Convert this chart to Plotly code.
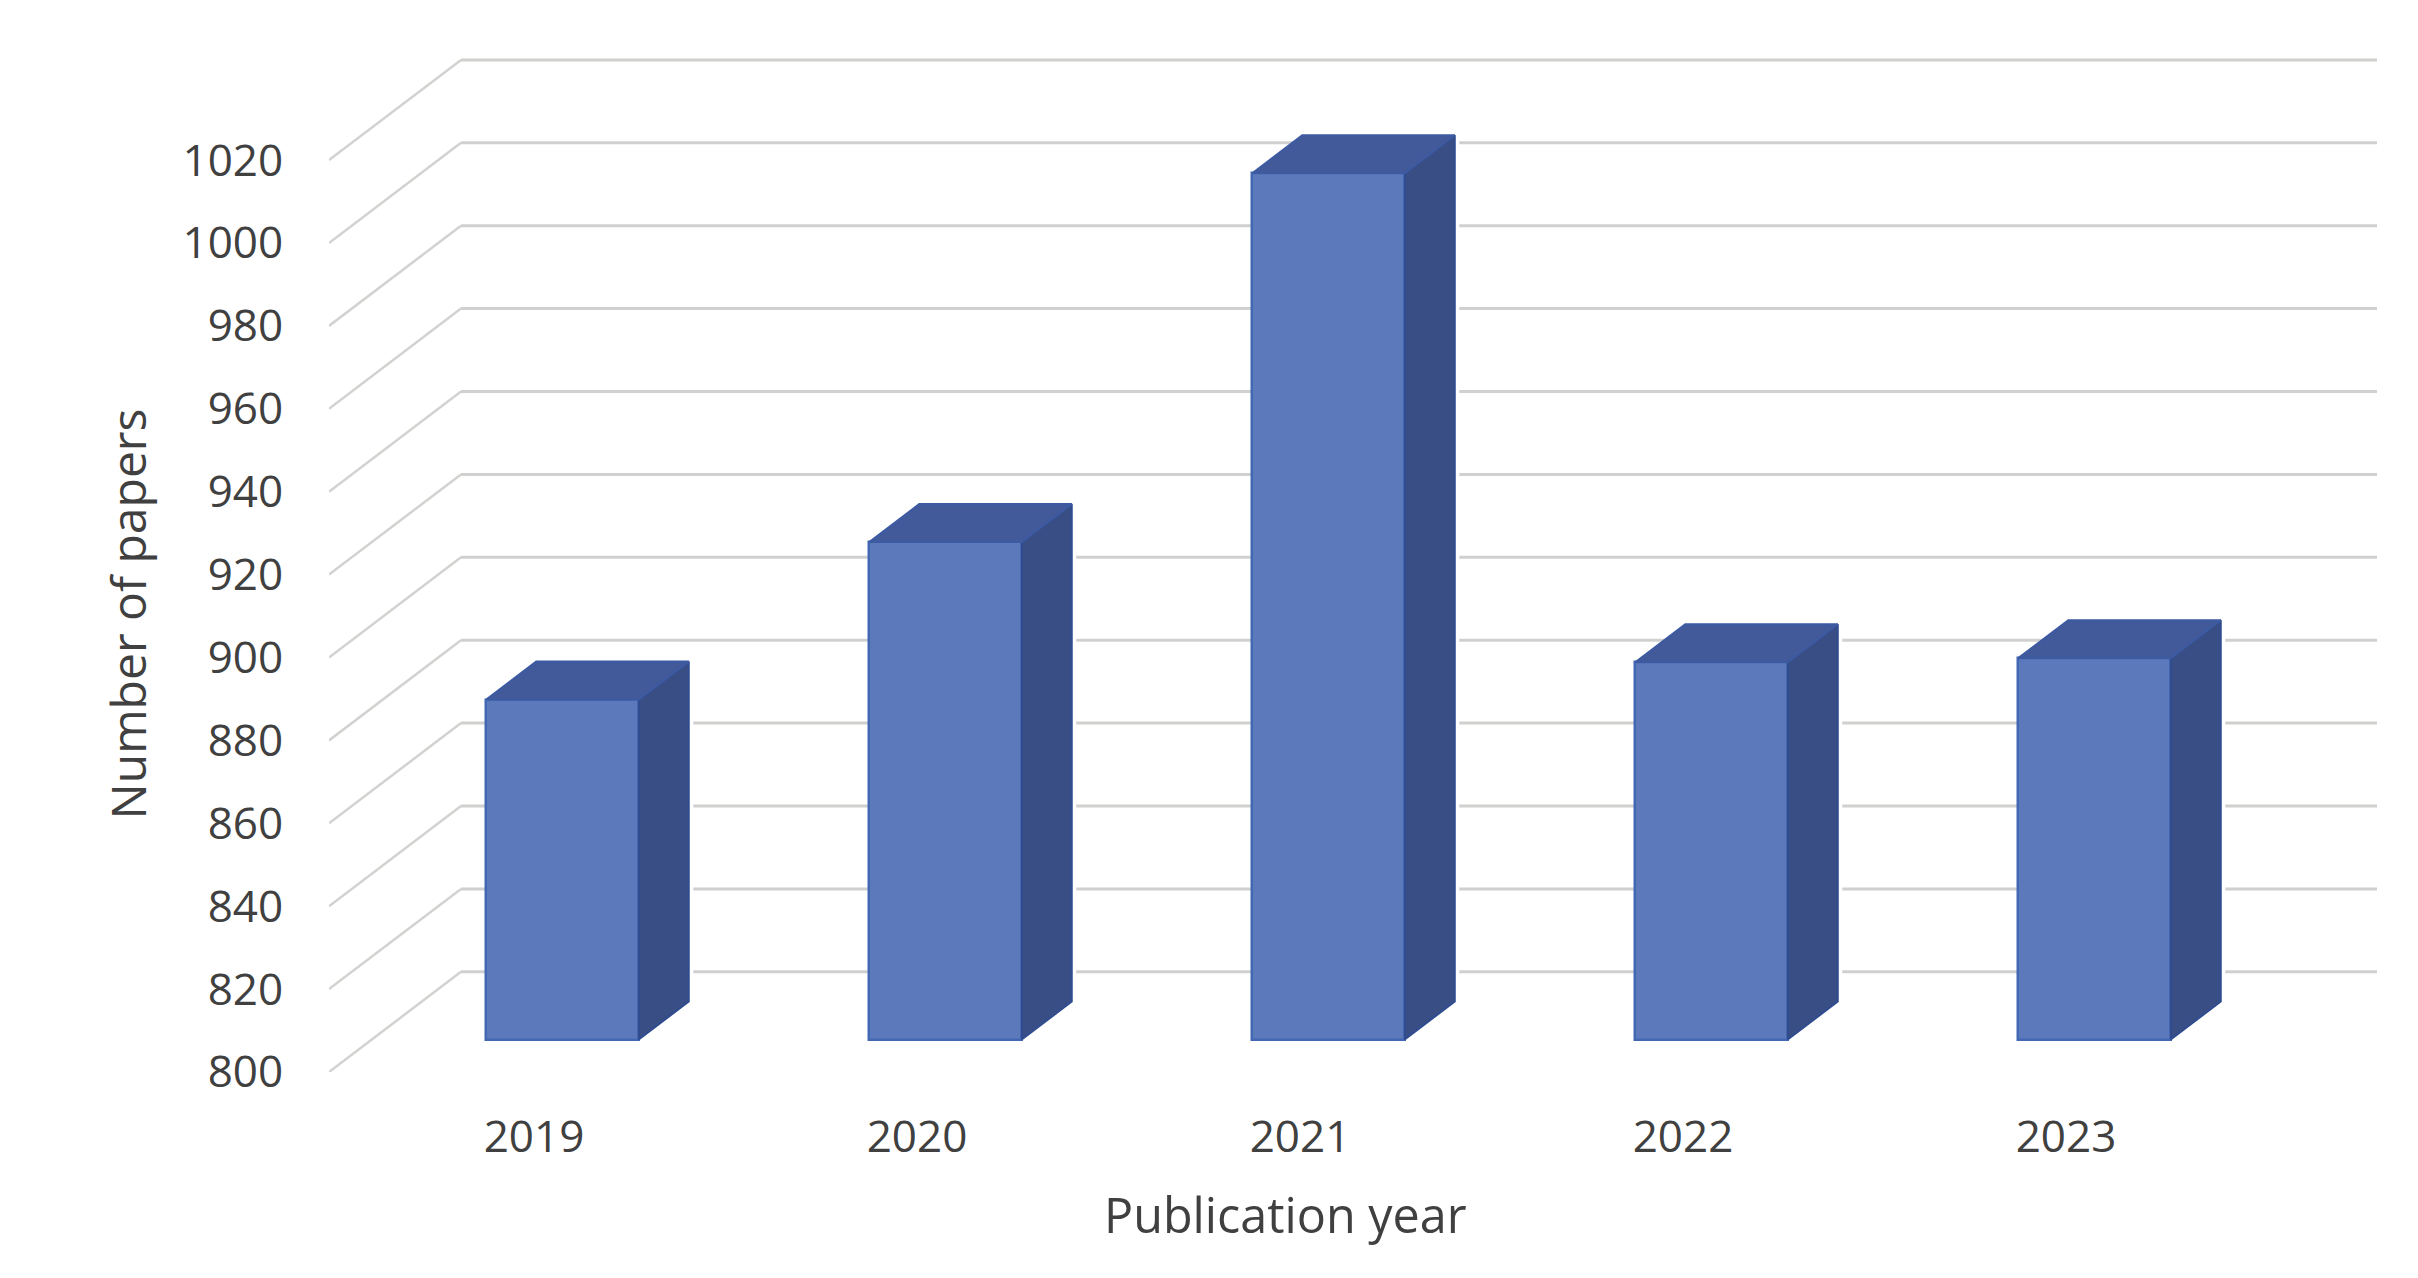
import plotly.graph_objects as go

years = ["2019", "2020", "2021", "2022", "2023"]
papers = [882, 920, 1009, 891, 892]
y_ticks = [800, 820, 840, 860, 880, 900, 920, 940, 960, 980, 1000, 1020]

PAGE = 8  # page margin around the figure
W, H = 2418 - 2 * PAGE, 1278 - 2 * PAGE
LEFT, RIGHT, TOP, BOTTOM = 329, 2377, 50, 1072  # plot area in window pixels
ML, MR, MT, MB = LEFT - PAGE, W + PAGE - RIGHT, TOP - PAGE, H + PAGE - BOTTOM
PX_PER_UNIT = 4.145
PX_PER_CAT = 383.0
plot_h = BOTTOM - TOP

pos = list(range(len(years)))
BAR_W = 152.5 / PX_PER_CAT
DEPTH_X = 50 / PX_PER_CAT
DEPTH_Y = 38 / PX_PER_UNIT
WALL_SHIFT = 100.2 / PX_PER_UNIT
WALL_X = (461 - 562.5) / PX_PER_CAT
X_MIN = (LEFT - 562.5) / PX_PER_CAT
X_MAX = (RIGHT - 562.5) / PX_PER_CAT
LABEL_SHIFT = -28.5 / PX_PER_CAT

span = plot_h / PX_PER_UNIT
front_range = [800, 800 + span]
bar_floor = 800 - 32.5 / PX_PER_UNIT
bar_range = [bar_floor, bar_floor + span]

TXT = "#404040"
FONT = "Open Sans"

fig = go.Figure()

# gridlines: floor diagonal + back wall
dx, dy, hx, hy = [], [], [], []
for v in y_ticks:
    dx += [X_MIN, WALL_X, None]
    dy += [v, v + WALL_SHIFT, None]
    hx += [WALL_X, X_MAX, None]
    hy += [v + WALL_SHIFT, v + WALL_SHIFT, None]
fig.add_trace(go.Scatter(x=dx, y=dy, mode="lines", yaxis="y", cliponaxis=False,
                         line=dict(color="#d2d2d0", width=2.5), showlegend=False, hoverinfo="skip"))
fig.add_trace(go.Scatter(x=hx, y=hy, mode="lines", yaxis="y", cliponaxis=False,
                         line=dict(color="#d0d0ce", width=3), showlegend=False, hoverinfo="skip"))

# side and top faces of each bar
halo_x, halo_y, side_x, side_y, top_x, top_y = [], [], [], [], [], []
for p, v in zip(pos, papers):
    r = p + BAR_W / 2
    l = p - BAR_W / 2
    halo_x += [r + DEPTH_X, r + DEPTH_X, None]
    halo_y += [800 + DEPTH_Y, v + DEPTH_Y, None]
    side_x += [r, r + DEPTH_X, r + DEPTH_X, r, r, None]
    side_y += [800, 800 + DEPTH_Y, v + DEPTH_Y, v, 800, None]
    top_x += [l, l + DEPTH_X, r + DEPTH_X, r, l, None]
    top_y += [v, v + DEPTH_Y, v + DEPTH_Y, v, v, None]
fig.add_trace(go.Scatter(x=halo_x, y=halo_y, mode="lines", yaxis="y2",
                         line=dict(color="white", width=9), showlegend=False, hoverinfo="skip"))
fig.add_trace(go.Scatter(x=side_x, y=side_y, mode="lines", fill="toself", yaxis="y2", fillcolor="#3a4e86",
                         line=dict(color="#2f4c90", width=2), showlegend=False, hoverinfo="skip"))
fig.add_trace(go.Scatter(x=top_x, y=top_y, mode="lines", fill="toself", yaxis="y2", fillcolor="#42599a",
                         line=dict(color="#3c5ba2", width=2), showlegend=False, hoverinfo="skip"))

# front faces
fig.add_trace(go.Bar(x=pos, y=[v - 800 for v in papers], base=800, width=BAR_W, yaxis="y2",
                     marker=dict(color="#5c7abb", line=dict(color="#4368b3", width=2.5)),
                     showlegend=False, hoverinfo="skip"))

fig.update_layout(
    width=W, height=H,
    margin=dict(l=ML, r=MR, t=MT, b=MB, autoexpand=False),
    paper_bgcolor="white", plot_bgcolor="rgba(0,0,0,0)",
    font=dict(family=FONT, color=TXT),
    bargap=0,
    xaxis=dict(range=[X_MIN, X_MAX], showgrid=False, zeroline=False, showline=False,
               tickmode="array", tickvals=[p + LABEL_SHIFT for p in pos], ticktext=years,
               ticks="outside", ticklen=26, tickcolor="rgba(0,0,0,0)",
               tickfont=dict(size=44, family=FONT, color=TXT)),
    yaxis=dict(range=front_range, showgrid=False, zeroline=False, showline=False,
               tickmode="array", tickvals=y_ticks, ticktext=[str(v) for v in y_ticks],
               ticks="outside", ticklen=36, tickcolor="rgba(0,0,0,0)",
               tickfont=dict(size=44, family=FONT, color=TXT)),
    yaxis2=dict(range=bar_range, overlaying="y", visible=False, showgrid=False, zeroline=False),
    annotations=[
        dict(text="Publication year", xref="paper", yref="paper", x=0.467, y=-0.1390,
             xanchor="center", yanchor="middle",
             showarrow=False, font=dict(size=48.5, family=FONT, color=TXT)),
        dict(text="Number of papers", xref="paper", yref="paper", x=-0.0985, y=0.448,
             xanchor="center", yanchor="middle",
             textangle=-90, showarrow=False, font=dict(size=48, family=FONT, color=TXT)),
    ],
)

fig.write_html("out.html")
